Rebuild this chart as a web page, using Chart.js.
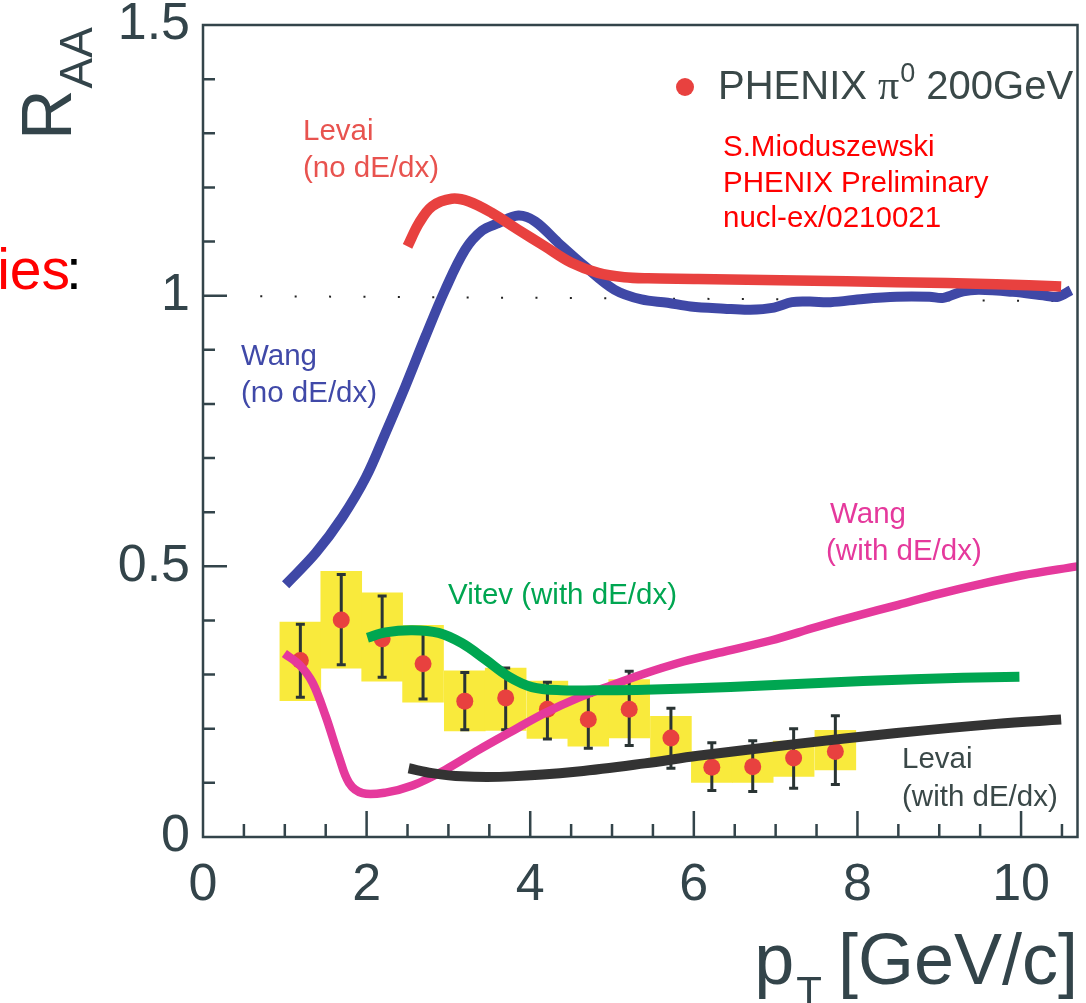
<!DOCTYPE html>
<html>
<head>
<meta charset="utf-8">
<script src="https://cdn.jsdelivr.net/npm/chart.js@4.4.0/dist/chart.umd.min.js"></script>
<style>
  html, body { margin: 0; padding: 0; background: #fff; }
</style>
</head>
<body>
<canvas id="raaChart" width="1086" height="1003"></canvas>
<script>
// PHENIX pi0 points (pT, R_AA), stat errors and systematic boxes
const ptX   = [1.19, 1.69, 2.19, 2.69, 3.20, 3.70, 4.21, 4.71, 5.21, 5.72, 6.22, 6.72, 7.22, 7.73];
const raaY  = [0.326, 0.401, 0.366, 0.320, 0.251, 0.257, 0.236, 0.217, 0.236, 0.183, 0.129, 0.130, 0.146, 0.158];
const statHi = [0.393, 0.485, 0.445, 0.387, 0.304, 0.312, 0.286, 0.262, 0.306, 0.238, 0.174, 0.178, 0.200, 0.224];
const statLo = [0.258, 0.318, 0.295, 0.255, 0.198, 0.198, 0.181, 0.164, 0.169, 0.127, 0.086, 0.084, 0.090, 0.097];
const sysHi = [0.397, 0.491, 0.451, 0.391, 0.307, 0.312, 0.288, 0.274, 0.291, 0.223, 0.158, 0.158, 0.177, 0.197];
const sysLo = [0.252, 0.312, 0.288, 0.249, 0.196, 0.197, 0.182, 0.168, 0.183, 0.143, 0.101, 0.101, 0.112, 0.124];

// theory curves
const wangNoX = [1.01, 1.38, 1.70, 1.99, 2.23, 2.475, 2.72, 2.96, 3.205, 3.41, 3.61, 3.855, 4.06, 4.34, 4.67, 5.03, 5.36, 5.68, 5.96, 6.37, 6.69, 6.98, 7.20, 7.42, 7.67, 8.07, 8.48, 8.88, 9.05, 9.29, 9.49, 9.90, 10.30, 10.45, 10.61];
const wangNoY = [0.466, 0.525, 0.590, 0.664, 0.746, 0.833, 0.925, 1.011, 1.085, 1.120, 1.134, 1.148, 1.137, 1.098, 1.054, 1.011, 0.993, 0.987, 0.980, 0.976, 0.974, 0.978, 0.988, 0.989, 0.988, 0.994, 0.998, 0.998, 0.996, 1.008, 1.011, 1.007, 1.000, 0.998, 1.010];

const levaiNoX = [2.50, 2.64, 2.80, 3.04, 3.25, 3.53, 3.85, 4.18, 4.50, 4.83, 5.15, 5.44, 6.05, 7.26, 8.48, 9.70, 10.49];
const levaiNoY = [1.091, 1.134, 1.165, 1.179, 1.174, 1.153, 1.122, 1.091, 1.061, 1.042, 1.034, 1.032, 1.031, 1.028, 1.025, 1.021, 1.017];

const vitevX = [2.01, 2.23, 2.56, 2.88, 3.165, 3.45, 3.73, 4.02, 4.38, 4.79, 5.40, 6.45, 8.07, 9.29, 9.98];
const vitevY = [0.368, 0.378, 0.382, 0.377, 0.358, 0.328, 0.297, 0.277, 0.271, 0.271, 0.272, 0.277, 0.288, 0.294, 0.296];

const levaiWithX = [2.515, 2.80, 3.165, 3.77, 4.585, 5.40, 6.05, 7.26, 8.48, 9.70, 10.49];
const levaiWithY = [0.127, 0.118, 0.112, 0.112, 0.121, 0.136, 0.150, 0.172, 0.192, 0.209, 0.217];

const wangWithX = [0.995, 1.18, 1.34, 1.50, 1.66, 1.785, 1.95, 2.23, 2.56, 2.96, 3.37, 3.77, 4.18, 4.585, 4.99, 5.40, 5.80, 6.30, 6.94, 7.50, 8.00, 8.50, 9.00, 9.50, 10.00, 10.69];
const wangWithY = [0.339, 0.318, 0.285, 0.223, 0.149, 0.100, 0.081, 0.082, 0.095, 0.124, 0.161, 0.195, 0.229, 0.257, 0.280, 0.302, 0.321, 0.340, 0.363, 0.388, 0.409, 0.429, 0.449, 0.467, 0.483, 0.500];

// dotted reference line at R_AA = 1
const refX = [0.70, 10.69];
const refY = [0.999, 0.990];

const xTickLabels = [0, 2, 4, 6, 8, 10];
const yTickLabels = [0, 0.5, 1, 1.5];

const axisColor = '#33444a';
const FONT = '"Liberation Sans", Arial, Helvetica, sans-serif';

function pairs(xs, ys) {
    return xs.map((x, i) => ({ x: x, y: ys[i] }));
}

function curve(xs, ys, color, width) {
    return {
        type: 'line',
        data: pairs(xs, ys),
        borderColor: color,
        borderWidth: width,
        pointRadius: 0,
        tension: 0.35,
        borderCapStyle: 'butt',
        borderJoinStyle: 'round',
        fill: false,
        order: 1
    };
}

// frame, inward ticks, error bars and all the annotation text
const decorations = {
    id: 'decorations',
    afterDatasetDraw(chart, args) {
        if (args.index !== 0) return;
        const ctx = chart.ctx, xs = chart.scales.x, ys = chart.scales.y;
        ctx.save();
        ctx.strokeStyle = '#2a3434';
        ctx.lineWidth = 3;
        ptX.forEach((x, i) => {
            const px = xs.getPixelForValue(x);
            const top = ys.getPixelForValue(statHi[i]);
            const bot = ys.getPixelForValue(statLo[i]);
            ctx.beginPath();
            ctx.moveTo(px, top); ctx.lineTo(px, bot);
            ctx.moveTo(px - 4.5, top); ctx.lineTo(px + 4.5, top);
            ctx.moveTo(px - 4.5, bot); ctx.lineTo(px + 4.5, bot);
            ctx.stroke();
        });
        ctx.restore();
    },
    afterDraw(chart) {
        const ctx = chart.ctx, xs = chart.scales.x, ys = chart.scales.y;
        const a = chart.chartArea;
        ctx.save();
        // frame
        ctx.strokeStyle = axisColor;
        ctx.lineWidth = 2.5;
        ctx.strokeRect(a.left, a.top, a.right - a.left, a.bottom - a.top);
        // x ticks every 0.5, major every 2
        ctx.beginPath();
        for (let k = 1; k <= 21; k++) {
            const v = k * 0.5;
            if (v > xs.max) break;
            const px = xs.getPixelForValue(v);
            const len = (k % 4 === 0) ? 26 : 13;
            ctx.moveTo(px, a.bottom);
            ctx.lineTo(px, a.bottom - len);
        }
        // y ticks every 0.1, major every 0.5
        for (let k = 1; k < 15; k++) {
            const py = ys.getPixelForValue(k / 10);
            const len = (k % 5 === 0) ? 24 : 12;
            ctx.moveTo(a.left, py);
            ctx.lineTo(a.left + len, py);
        }
        ctx.stroke();

        ctx.textBaseline = 'alphabetic';

        // cut-off slide text on the left
        ctx.font = '57px ' + FONT;
        ctx.fillStyle = '#ff0000';
        ctx.textAlign = 'right';
        ctx.fillText('ies', 70, 289);
        ctx.textAlign = 'left';
        ctx.fillStyle = '#000';
        ctx.fillText(':', 66, 289);

        // y title R_AA (rotated)
        ctx.save();
        ctx.translate(71, 140);
        ctx.rotate(-Math.PI / 2);
        ctx.fillStyle = axisColor;
        ctx.font = '70px ' + FONT;
        ctx.fillText('R', 0, 0);
        const rw = ctx.measureText('R').width;
        ctx.font = '46px ' + FONT;
        ctx.fillText('AA', rw + 1, 21);
        ctx.restore();

        // x title p_T [GeV/c]
        ctx.fillStyle = axisColor;
        ctx.font = '72px ' + FONT;
        ctx.textAlign = 'right';
        ctx.fillText('[GeV/c]', 1078, 984);
        const bw = ctx.measureText('[GeV/c]').width;
        ctx.font = '42px ' + FONT;
        const tEnd = 1078 - bw - 16;
        ctx.fillText('T', tEnd, 1006);
        const tw = ctx.measureText('T').width;
        ctx.font = '72px ' + FONT;
        ctx.fillText('p', tEnd - tw - 2, 984);
        ctx.textAlign = 'left';

        // legend
        ctx.fillStyle = '#e8413f';
        ctx.beginPath();
        ctx.arc(685, 87, 9, 0, Math.PI * 2);
        ctx.fill();
        ctx.fillStyle = '#3a4848';
        ctx.font = '40px ' + FONT;
        let lx = 718;
        ctx.fillText('PHENIX ', lx, 99);
        lx += ctx.measureText('PHENIX ').width;
        ctx.font = '42px "Liberation Serif", serif';
        ctx.fillText('\u03c0', lx, 99);
        lx += ctx.measureText('\u03c0').width + 1;
        ctx.font = '27px ' + FONT;
        ctx.fillText('0', lx, 82);
        lx += ctx.measureText('0').width;
        ctx.font = '40px ' + FONT;
        ctx.fillText(' 200GeV', lx, 99);

        // preliminary note
        ctx.fillStyle = '#ff0000';
        ctx.font = '29.5px ' + FONT;
        ctx.fillText('S.Mioduszewski', 723, 156);
        ctx.fillText('PHENIX Preliminary', 723, 192);
        ctx.fillText('nucl-ex/0210021', 723, 227);

        // curve labels
        ctx.font = '29.5px ' + FONT;
        ctx.fillStyle = '#e8534f';
        ctx.fillText('Levai', 303, 140);
        ctx.fillText('(no dE/dx)', 303, 177);
        ctx.fillStyle = '#4049a8';
        ctx.fillText('Wang', 241, 365);
        ctx.fillText('(no dE/dx)', 241, 402);
        ctx.fillStyle = '#00a651';
        ctx.fillText('Vitev (with dE/dx)', 448, 604);
        ctx.fillStyle = '#e5399c';
        ctx.fillText('Wang', 830, 523);
        ctx.fillText('(with dE/dx)', 826, 560);
        ctx.fillStyle = '#3a4848';
        ctx.fillText('Levai', 902, 768);
        ctx.fillText('(with dE/dx)', 902, 806);
        ctx.restore();
    }
};

Chart.defaults.font.family = FONT;

const ctx = document.getElementById('raaChart').getContext('2d');
const raaChart = new Chart(ctx, {
    type: 'scatter',
    data: {
        datasets: [
            {
                type: 'bar',
                label: 'sys',
                data: ptX.map((x, i) => ({ x: x, y: [sysLo[i], sysHi[i]] })),
                backgroundColor: '#f9ea3c',
                borderWidth: 0,
                borderSkipped: false,
                barPercentage: 1,
                categoryPercentage: 1,
                order: 10
            },
            {
                type: 'scatter',
                label: 'PHENIX pi0 200GeV',
                data: pairs(ptX, raaY),
                backgroundColor: '#e8413f',
                borderWidth: 0,
                pointRadius: 8.5,
                order: 5
            },
            {
                type: 'line',
                data: pairs(refX, refY),
                borderColor: '#222',
                borderWidth: 2,
                borderDash: [2, 32.4],
                pointRadius: 0,
                clip: false,
                order: 6
            },
            curve(levaiNoX, levaiNoY, '#e8413f', 10.5),
            curve(wangNoX, wangNoY, '#3f48a6', 10),
            curve(vitevX, vitevY, '#00a651', 10),
            curve(levaiWithX, levaiWithY, '#333333', 10),
            curve(wangWithX, wangWithY, '#e5399c', 8.5)
        ]
    },
    options: {
        responsive: false,
        animation: false,
        devicePixelRatio: 1,
        layout: { padding: { top: 25, right: 4, left: 0, bottom: 0 } },
        plugins: { legend: { display: false }, tooltip: { enabled: false } },
        scales: {
            x: {
                type: 'linear',
                min: 0,
                max: 10.69,
                offset: false,
                grid: { display: false, drawTicks: false },
                border: { display: false },
                ticks: {
                    stepSize: 2,
                    includeBounds: false,
                    autoSkip: false,
                    maxRotation: 0,
                    padding: 17,
                    color: axisColor,
                    font: { size: 52 },
                    callback: v => xTickLabels.includes(v) ? String(v) : ''
                },
                afterFit: s => { s.height = 166; s.paddingLeft = 0; s.paddingRight = 0; }
            },
            y: {
                type: 'linear',
                min: 0,
                max: 1.5,
                grid: { display: false, drawTicks: false },
                border: { display: false },
                ticks: {
                    stepSize: 0.5,
                    autoSkip: false,
                    padding: 13,
                    color: axisColor,
                    font: { size: 52 },
                    callback: v => yTickLabels.includes(v) ? String(v) : ''
                },
                afterFit: s => { s.width = 203; s.paddingTop = 0; s.paddingBottom = 0; }
            }
        }
    },
    plugins: [decorations]
});
</script>
</body>
</html>
